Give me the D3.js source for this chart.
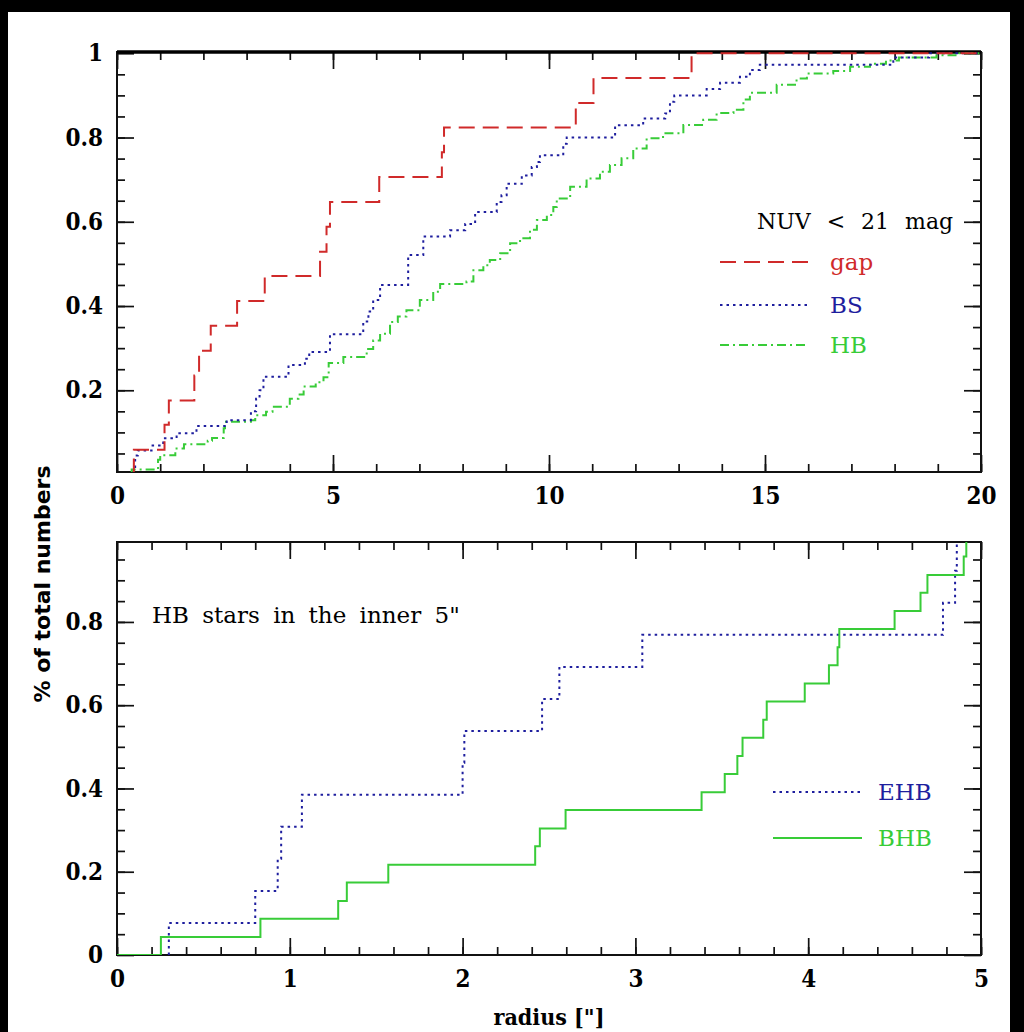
<!doctype html>
<html>
<head>
<script type='text/javascript' src='https://d3js.org/d3.v7.min.js'></script>
<style>
body{margin:0;background:#000;}
text{fill:#000;}
</style>
</head>
<body>
<script>
// ---- values ----
// top panel (NUV < 21 mag): radius of each jump and cumulative fraction after it
var gapR = [0.39, 1.10, 1.20, 1.79, 1.90, 2.17, 2.78, 3.42, 4.70, 4.85, 4.93, 6.07, 7.52, 7.57, 10.62, 11.03, 13.30];
var gapF = [0.059, 0.118, 0.176, 0.235, 0.294, 0.353, 0.412, 0.471, 0.529, 0.588, 0.647, 0.706, 0.765, 0.824, 0.882, 0.941, 1.0];

var bsR = [0.42, 0.48, 0.80, 1.07, 1.38, 1.84, 2.54, 3.10, 3.22, 3.30, 3.39, 3.97, 4.35, 4.45, 4.93,
           5.70, 5.82, 5.93, 6.09, 6.74, 7.09, 7.71, 8.06, 8.29, 8.79, 8.90, 9.02, 9.37, 9.60, 9.72, 9.79,
           10.33, 10.41, 11.53, 12.18, 12.69, 12.80, 12.90, 13.65, 13.96, 14.42, 14.65, 14.88, 17.97, 18.80];
var bsF = [0.045, 0.057, 0.069, 0.086, 0.098, 0.115, 0.129, 0.150, 0.180, 0.200, 0.232, 0.260, 0.275, 0.291, 0.333,
           0.363, 0.387, 0.414, 0.450, 0.521, 0.565, 0.580, 0.595, 0.623, 0.647, 0.663, 0.690, 0.710, 0.730, 0.742, 0.758,
           0.785, 0.800, 0.829, 0.845, 0.857, 0.885, 0.900, 0.915, 0.930, 0.944, 0.960, 0.973, 0.990, 1.0];

var hbR = [0.34, 0.95, 1.00, 1.35, 1.55, 2.10, 2.20, 2.47, 2.50, 3.10, 3.20, 3.45, 3.60, 4.00, 4.20, 4.32, 4.60, 4.78, 4.90,
           5.24, 5.78, 5.93, 6.09, 6.32, 6.50, 6.70, 7.01, 7.32, 7.48, 8.09, 8.25, 8.48, 8.63, 8.87, 9.10, 9.33, 9.56, 9.72, 9.95,
           10.10, 10.18, 10.49, 10.87, 11.18, 11.41, 11.68, 11.95, 12.26, 12.64, 13.11, 13.57, 13.88, 14.27, 14.50, 14.65,
           15.27, 15.73, 15.97, 16.58, 16.97, 17.43, 17.80, 18.10, 18.97, 19.50];
var hbF = [0.012, 0.035, 0.046, 0.062, 0.072, 0.080, 0.087, 0.110, 0.125, 0.129, 0.141, 0.149, 0.161, 0.180, 0.190, 0.209, 0.219, 0.231, 0.265,
           0.279, 0.298, 0.318, 0.334, 0.362, 0.375, 0.390, 0.414, 0.434, 0.452, 0.458, 0.485, 0.497, 0.509, 0.525, 0.549, 0.561, 0.581, 0.604, 0.616,
           0.635, 0.655, 0.683, 0.703, 0.719, 0.735, 0.751, 0.774, 0.798, 0.810, 0.830, 0.842, 0.858, 0.866, 0.890, 0.906,
           0.925, 0.940, 0.952, 0.958, 0.968, 0.975, 0.983, 0.990, 0.995, 1.0];

// bottom panel (HB stars in the inner 5")
var ehbR = [0.30, 0.80, 0.93, 0.95, 1.07, 2.00, 2.01, 2.46, 2.56, 3.04, 4.78, 4.85, 4.86];
var ehbF = [0.077, 0.154, 0.231, 0.308, 0.385, 0.462, 0.538, 0.615, 0.692, 0.769, 0.846, 0.923, 1.0];
var bhbR = [0.254, 0.83, 1.28, 1.33, 1.57, 2.42, 2.447, 2.596, 3.383, 3.517, 3.59, 3.62, 3.74, 3.76, 3.98, 4.12, 4.17, 4.18, 4.50, 4.65, 4.69, 4.90, 4.915];
var bhbF = [0.043, 0.087, 0.130, 0.174, 0.217, 0.261, 0.304, 0.348, 0.391, 0.435, 0.478, 0.522, 0.565, 0.609, 0.652, 0.696, 0.739, 0.783, 0.826, 0.870, 0.913, 0.957, 1.0];

// tick labels
var topXTicks = [0, 5, 10, 15, 20];
var topYTicks = [0.2, 0.4, 0.6, 0.8, 1];
var botXTicks = [0, 1, 2, 3, 4, 5];
var botYTicks = [0, 0.2, 0.4, 0.6, 0.8];

var W = 1024, H = 1032;
var RED = '#d02a2a', BLUE = '#1e1e9e', GREEN = '#38cc38';
var TICKFONT = "'DejaVu Serif Condensed', 'DejaVu Serif'";

var svg = d3.select('body').append('svg').attr('width', W).attr('height', H);
svg.append('rect').attr('width', W).attr('height', H).attr('fill', '#000');
svg.append('rect').attr('x', 8).attr('y', 12).attr('width', 1002).attr('height', 1020).attr('fill', '#fff');

var L = 117, R = 981;

function panel(o) {
  var g = svg.append('g');
  var x = d3.scaleLinear().domain(o.xd).range([L, R]);
  var y = d3.scaleLinear().domain(o.yd).range([o.bot, o.top]);

  g.append('clipPath').attr('id', o.id).append('rect')
    .attr('x', L).attr('y', o.top).attr('width', R - L).attr('height', o.bot - o.top);

  // ticks on all four sides, pointing inward
  function ax(axis, tx, ty, vals, size, fmt) {
    var a = g.append('g').attr('transform', 'translate(' + tx + ',' + ty + ')')
      .call(axis.tickValues(vals).tickSize(-size).tickPadding(o.pad).tickFormat(fmt));
    a.select('.domain').remove();
    a.selectAll('line').attr('stroke', '#111').attr('stroke-width', 1.7);
    a.selectAll('text').attr('font-family', TICKFONT).attr('font-weight', 'bold')
      .attr('font-size', 24).attr('fill', '#111');
    return a;
  }
  var none = function() { return ''; };
  ax(d3.axisBottom(x), 0, o.bot, o.xMinor, 8, none);
  ax(d3.axisTop(x), 0, o.top, o.xMinor, 8, none);
  ax(d3.axisLeft(y), L, 0, o.yMinor, 8, none);
  ax(d3.axisRight(y), R, 0, o.yMinor, 8, none);
  ax(d3.axisBottom(x), 0, o.bot, o.xTicks, 17, d3.format('d')).selectAll('text').attr('dy', '0.75em');
  ax(d3.axisTop(x), 0, o.top, o.xTicks, 17, none);
  ax(d3.axisLeft(y), L, 0, o.yTicks, 17, function(d) { return d === 1 ? '1' : d === 0 ? '0' : d3.format('.1f')(d); });
  ax(d3.axisRight(y), R, 0, o.yTicks, 17, none);

  g.append('rect').attr('x', L).attr('y', o.top).attr('width', R - L).attr('height', o.bot - o.top)
    .attr('fill', 'none').attr('stroke', '#111').attr('stroke-width', 2);
  if (o.thickTop) g.append('line').attr('x1', L).attr('x2', R).attr('y1', o.top).attr('y2', o.top)
    .attr('stroke', '#000').attr('stroke-width', 3.5);

  var line = d3.line().x(function(d) { return x(d[0]); }).y(function(d) { return y(d[1]); })
    .curve(d3.curveStepAfter);
  var cg = g.append('g').attr('clip-path', 'url(#' + o.id + ')');
  o.series.forEach(function(s) {
    var pts = [[s.start, 0]];
    s.r.forEach(function(r, i) { pts.push([r, s.f[i]]); });
    pts.push([o.xd[1], s.f[s.f.length - 1]]);
    cg.append('path').attr('d', line(pts)).attr('fill', 'none')
      .attr('stroke', s.color).attr('stroke-width', s.w).attr('stroke-dasharray', s.dash);
  });
  return {x: x, y: y, g: g};
}

panel({
  id: 'clipTop', xd: [0, 20], yd: [0.006, 1.003], top: 52, bot: 472, pad: 14, thickTop: true,
  xTicks: topXTicks, yTicks: topYTicks,
  xMinor: d3.range(0, 21, 1), yMinor: d3.range(0.05, 1.0, 0.05),
  series: [
    {r: hbR, f: hbF, start: hbR[0], color: GREEN, w: 2, dash: '9,4,2,4'},
    {r: bsR, f: bsF, start: bsR[0], color: BLUE, w: 2, dash: '2.5,4'},
    {r: gapR, f: gapF, start: gapR[0], color: RED, w: 2, dash: '16,8'}
  ]
});

panel({
  id: 'clipBot', xd: [0, 5], yd: [0, 0.992], top: 542, bot: 955, pad: 14,
  xTicks: botXTicks, yTicks: botYTicks,
  xMinor: d3.range(0, 5.01, 0.2), yMinor: d3.range(0.05, 0.99, 0.05),
  series: [
    {r: ehbR, f: ehbF, start: ehbR[0], color: BLUE, w: 2, dash: '2.5,4'},
    {r: bhbR, f: bhbF, start: 0, color: GREEN, w: 2, dash: null}
  ]
});

// annotations and legends
svg.append('text').attr('x', 757).attr('y', 229).attr('font-family', 'DejaVu Serif')
  .attr('font-size', 22).attr('word-spacing', 9).text('NUV < 21 mag');

var topLeg = [
  {name: 'gap', color: RED, dash: '16,8', y: 262},
  {name: 'BS', color: BLUE, dash: '2.5,4', y: 305},
  {name: 'HB', color: GREEN, dash: '9,4,2,4', y: 345}
];
topLeg.forEach(function(d) {
  svg.append('line').attr('x1', 720).attr('x2', 809).attr('y1', d.y).attr('y2', d.y)
    .attr('stroke', d.color).attr('stroke-width', 2).attr('stroke-dasharray', d.dash);
  svg.append('text').attr('x', 830).attr('y', d.y + 8).attr('font-family', 'DejaVu Serif')
    .attr('font-size', 23).style('fill', d.color).text(d.name);
});

svg.append('text').attr('x', 152).attr('y', 623).attr('font-family', 'DejaVu Serif')
  .attr('font-size', 23).attr('word-spacing', 6).text('HB stars in the inner 5"');

var botLeg = [
  {name: 'EHB', color: BLUE, dash: '2.5,4', y: 792},
  {name: 'BHB', color: GREEN, dash: null, y: 838}
];
botLeg.forEach(function(d) {
  svg.append('line').attr('x1', 773).attr('x2', 862).attr('y1', d.y).attr('y2', d.y)
    .attr('stroke', d.color).attr('stroke-width', 2).attr('stroke-dasharray', d.dash);
  svg.append('text').attr('x', 878).attr('y', d.y + 8).attr('font-family', 'DejaVu Serif')
    .attr('font-size', 23).style('fill', d.color).text(d.name);
});

// axis titles
svg.append('text').attr('x', (L + R) / 2).attr('y', 1025).attr('text-anchor', 'middle')
  .attr('font-family', TICKFONT).attr('font-weight', 'bold').attr('font-size', 23)
  .text('radius ["]');
svg.append('text').attr('transform', 'translate(50,584) rotate(-90)').attr('text-anchor', 'middle')
  .attr('font-family', 'DejaVu Sans').attr('font-weight', 'bold').attr('font-size', 22)
  .text('% of total numbers');
</script>
</body>
</html>
